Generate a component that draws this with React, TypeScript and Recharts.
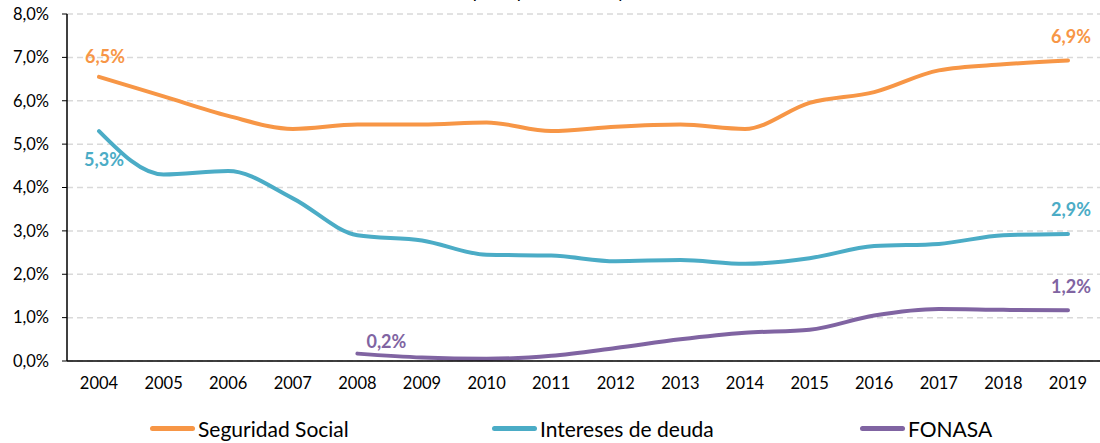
import { LineChart, Line, XAxis, YAxis, CartesianGrid } from "recharts";

const years = ["2004", "2005", "2006", "2007", "2008", "2009", "2010", "2011", "2012", "2013", "2014", "2015", "2016", "2017", "2018", "2019"];
const seguridadSocial = [6.55, 6.1, 5.65, 5.35, 5.45, 5.45, 5.5, 5.3, 5.4, 5.45, 5.35, 5.95, 6.2, 6.7, 6.84, 6.93];
const interesesDeuda = [5.3, 4.3, 4.38, 3.75, 2.9, 2.78, 2.45, 2.43, 2.3, 2.33, 2.24, 2.37, 2.65, 2.7, 2.9, 2.93];
const fonasa = [null, null, null, null, 0.17, 0.08, 0.05, 0.12, 0.3, 0.5, 0.65, 0.72, 1.05, 1.2, 1.18, 1.17];
const yTicks = [0, 1, 2, 3, 4, 5, 6, 7, 8];

const ORANGE = "#F79646";
const TEAL = "#4BACC6";
const PURPLE = "#8064A2";

const data = years.map((year, i) => ({
  year,
  seguridad: seguridadSocial[i],
  intereses: interesesDeuda[i],
  fonasa: fonasa[i],
}));

const fmt = (v: number) => `${v.toFixed(1).replace(".", ",")}%`;

// label only on the first and last point of each series, placed like the excel original
const makeLabel = (values: (number | null)[], color: string, firstOffset: [number, number]) => (props: any) => {
  const { x, y, index, value } = props;
  if (value == null) return null;
  const first = values.findIndex((v) => v != null);
  const last = values.length - 1;
  if (index !== first && index !== last) return null;
  const [dx, dy] = index === first ? firstOffset : [3, -24];
  return (
    <text
      x={x + dx}
      y={y + dy}
      dy="0.35em"
      textAnchor="middle"
      style={{ fontSize: 18, fontWeight: 700, fill: color, fontFamily: "Lato" }}
    >
      {fmt(value)}
    </text>
  );
};

const legendItems = [
  { name: "Seguridad Social", color: ORANGE, left: 150 },
  { name: "Intereses de deuda", color: TEAL, left: 492 },
  { name: "FONASA", color: PURPLE, left: 860 },
];

export default function App() {
  return (
    <div style={{ position: "absolute", left: 0, top: 0, width: 1100, height: 443, overflow: "hidden", background: "#fff", fontFamily: "Lato" }}>
      {/* title sits mostly above the frame, as in the original crop */}
      <div style={{ position: "absolute", top: -18, left: 0, width: 1100, textAlign: "center", fontSize: 18, lineHeight: "18px", color: "#000" }}>
        Gasto en principales rubros y FONASA
      </div>
      <LineChart width={1100} height={443} data={data} margin={{ top: 14, right: 0, left: 0, bottom: 52 }}>
        <CartesianGrid vertical={false} stroke="#d9d9d9" strokeWidth={1.5} strokeDasharray="6 4" />
        <XAxis
          dataKey="year"
          axisLine={{ stroke: "#000", strokeWidth: 1.5 }}
          tickLine={false}
          tickSize={6}
          tickMargin={10}
          height={30}
          padding={{ left: 32, right: 32 }}
          tick={{ fontSize: 16.5, fill: "#000", fontFamily: "Lato" }}
          interval={0}
        />
        <YAxis
          domain={[0, 8]}
          ticks={yTicks}
          tickFormatter={fmt}
          width={67}
          axisLine={{ stroke: "#000", strokeWidth: 1.5 }}
          tickLine={{ stroke: "#000" }}
          tickSize={5}
          tickMargin={13}
          tick={{ fontSize: 16.5, fill: "#000", fontFamily: "Lato" }}
        />
        <Line
          type="monotone"
          dataKey="seguridad"
          stroke={ORANGE}
          strokeWidth={4}
          strokeLinecap="round"
          dot={false}
          isAnimationActive={false}
          label={makeLabel(seguridadSocial, ORANGE, [6, -20])}
        />
        <Line
          type="monotone"
          dataKey="intereses"
          stroke={TEAL}
          strokeWidth={4}
          strokeLinecap="round"
          dot={false}
          isAnimationActive={false}
          label={makeLabel(interesesDeuda, TEAL, [5, 29])}
        />
        <Line
          type="monotone"
          dataKey="fonasa"
          stroke={PURPLE}
          strokeWidth={4}
          strokeLinecap="round"
          dot={false}
          isAnimationActive={false}
          label={makeLabel(fonasa, PURPLE, [29, -12])}
        />
      </LineChart>
      {legendItems.map((item) => (
        <div key={item.name} style={{ position: "absolute", left: item.left, top: 416, display: "flex", alignItems: "center", fontSize: 21, color: "#000" }}>
          <span style={{ display: "inline-block", width: 45, height: 5, borderRadius: 3, background: item.color, marginRight: 3 }} />
          <span>{item.name}</span>
        </div>
      ))}
    </div>
  );
}
